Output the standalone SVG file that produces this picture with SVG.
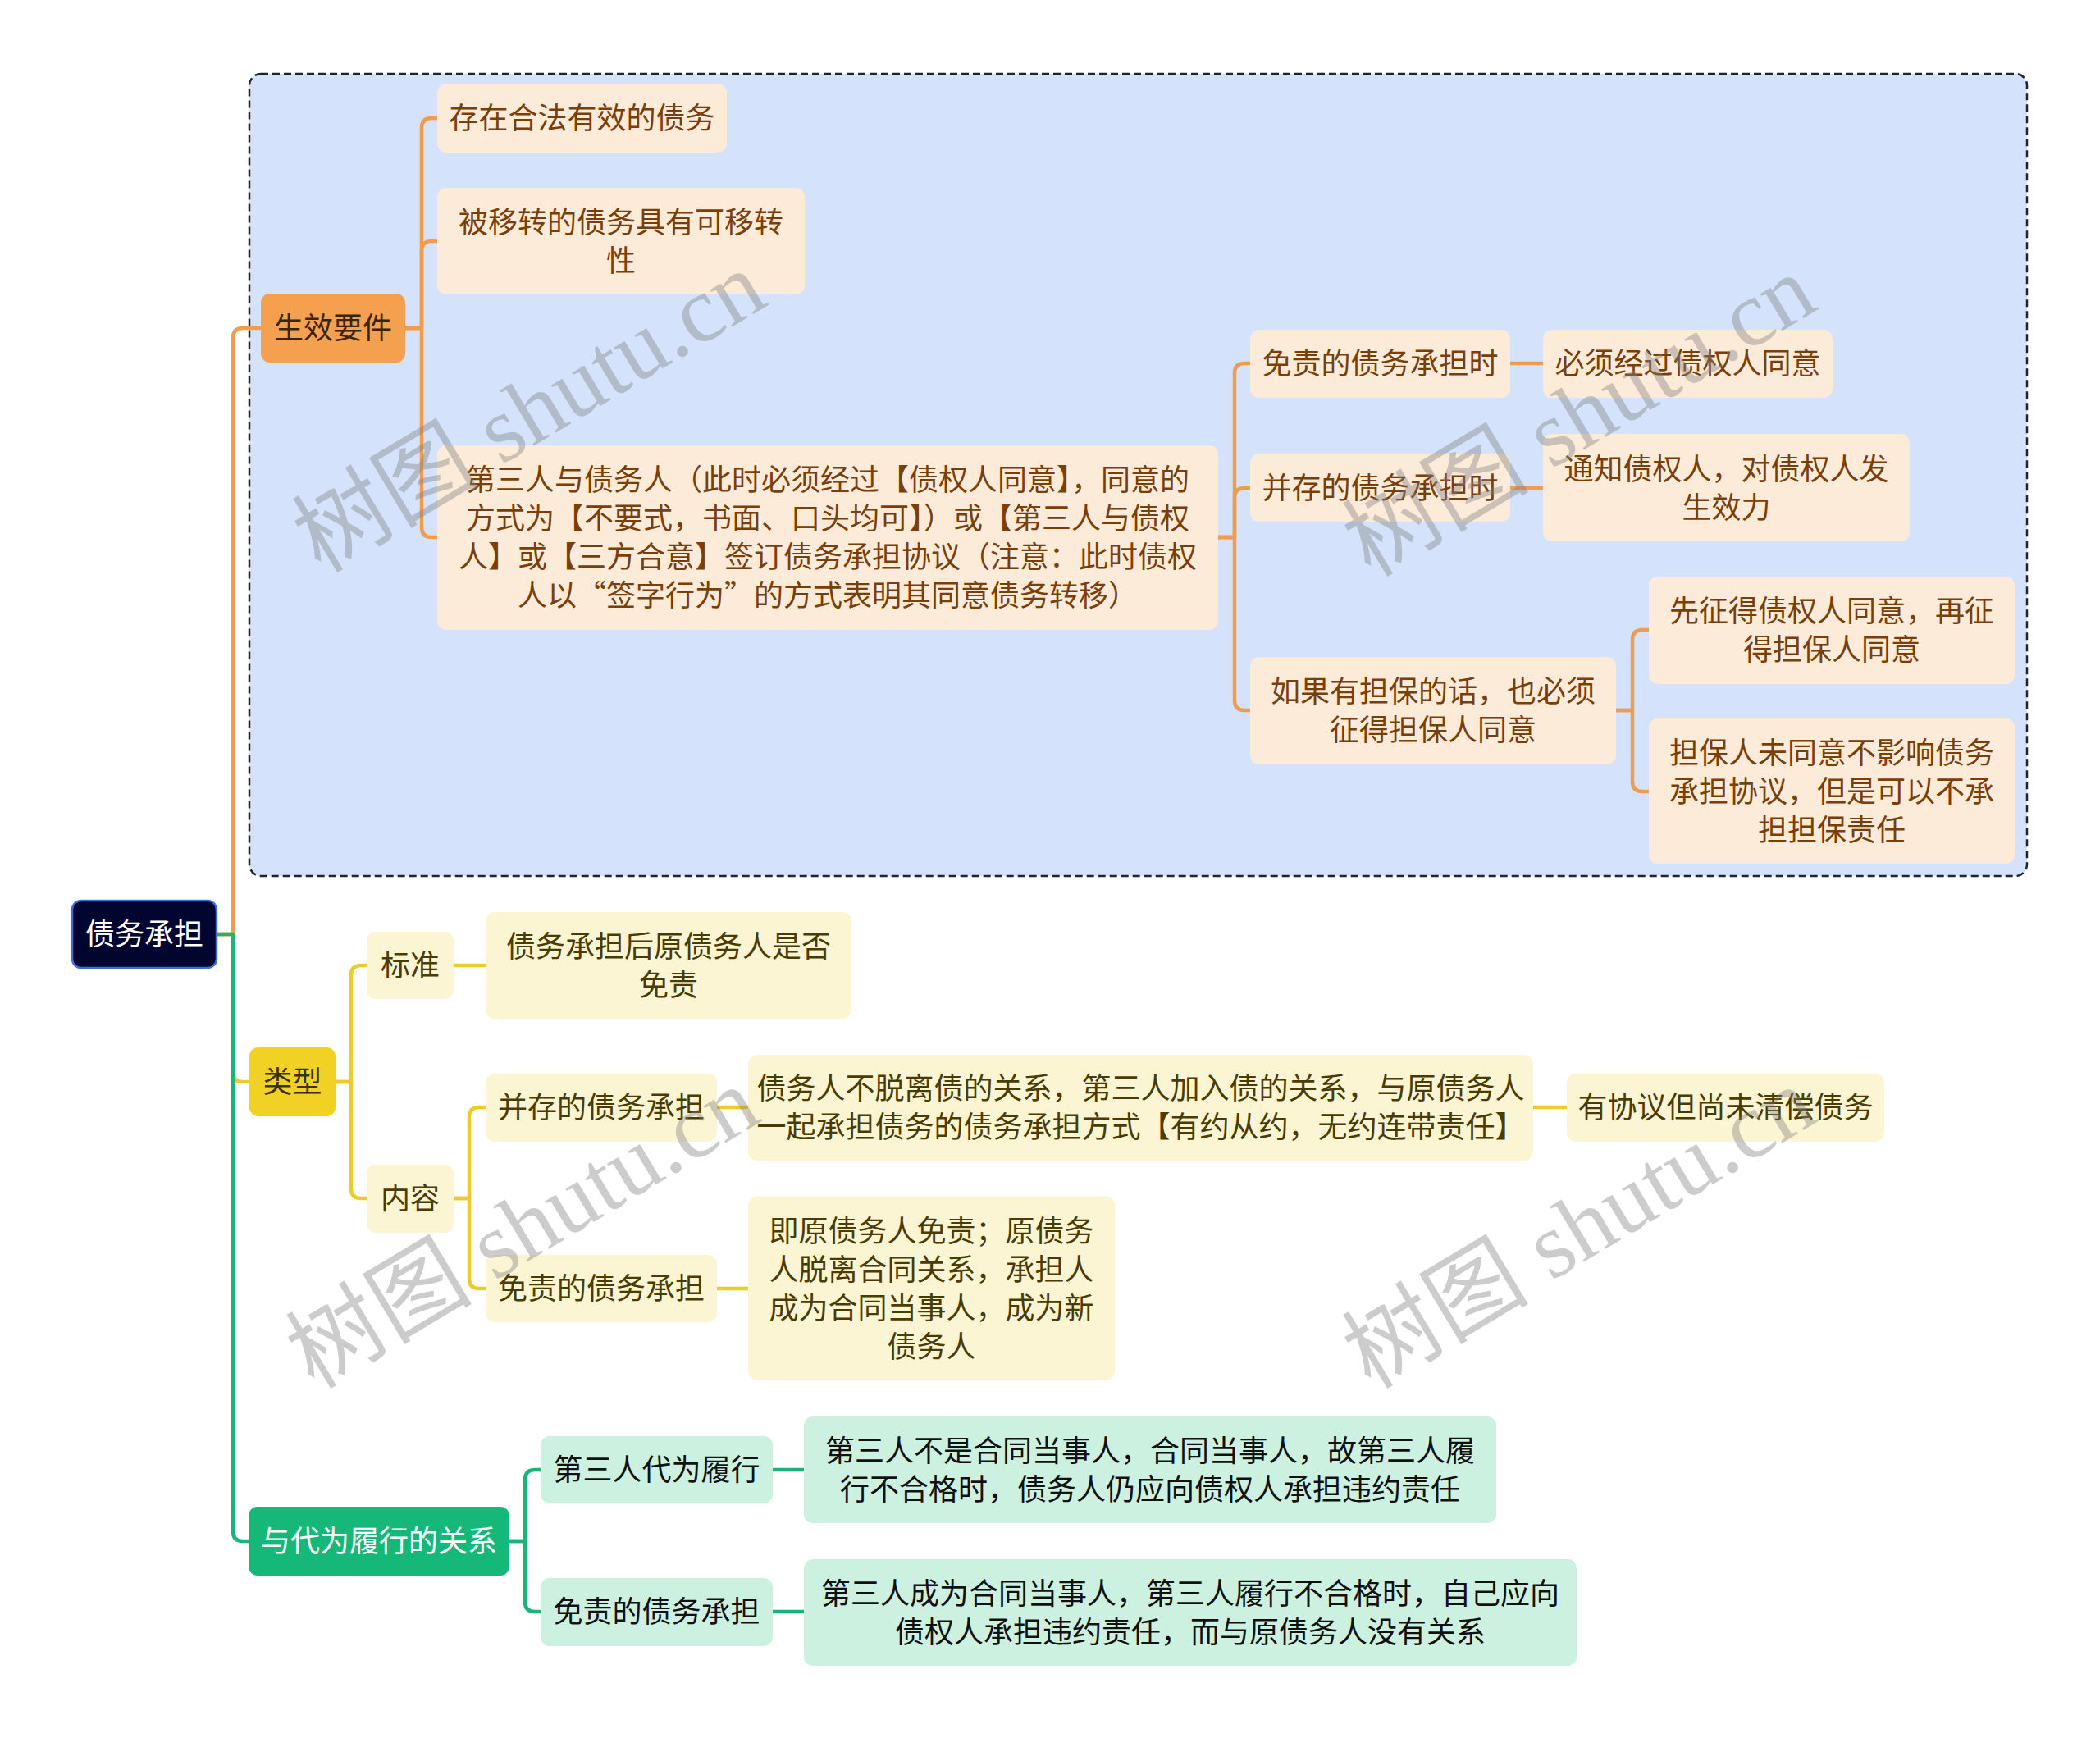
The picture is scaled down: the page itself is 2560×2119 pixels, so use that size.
<svg xmlns="http://www.w3.org/2000/svg" width="2560" height="2119" viewBox="0 0 2560 2119">
<defs>
<style>
text{font-family:"Noto Sans CJK SC","Noto Sans",sans-serif;font-size:36px;text-anchor:middle}
.c{fill:none;stroke-width:4.5;stroke-linecap:round;stroke-linejoin:round}
.co{stroke:#f09c4e}
.cy{stroke:#eccb2a}
.cg{stroke:#19b47a}
.no{fill:#fdebd9}
.ny{fill:#fcf5d4}
.ng{fill:#cdf1e1}
.to{fill:#7a3e08}
.ty{fill:#4a3c00}
.tg{fill:#111111}
.wm{font-family:"Liberation Serif","Noto Sans CJK SC",serif;font-size:114px;fill:#808080;fill-opacity:0.4}
</style>
</defs>
<rect width="2560" height="2119" fill="#ffffff"/>
<rect x="304" y="90" width="2167" height="978" rx="14" fill="#d4e3fb" stroke="#1e2430" stroke-width="2.5" stroke-dasharray="9 5"/>

<g id="connectors">
<g class="c cy">
<path d="M264 1139 H284 V1307 Q284 1319 296 1319 H304"/>
<path d="M409 1319 H428 V1189 Q428 1177 440 1177 H447"/>
<path d="M409 1319 H428 V1449 Q428 1461 440 1461 H447"/>
<path d="M553 1177 H592"/>
<path d="M553 1461 H572 V1362 Q572 1350 584 1350 H592"/>
<path d="M553 1461 H572 V1559 Q572 1571 584 1571 H592"/>
<path d="M874 1350 H912"/>
<path d="M1869 1350 H1910"/>
<path d="M874 1571 H912"/>
</g>
<g class="c co">
<path d="M264 1139 H284 V412 Q284 400 296 400 H318"/>
<path d="M494 400 H514 V156 Q514 144 526 144 H533"/>
<path d="M494 400 H514 V306 Q514 294 526 294 H533"/>
<path d="M494 400 H514 V643 Q514 655 526 655 H533"/>
<path d="M1485 655 H1505 V455 Q1505 443 1517 443 H1524"/>
<path d="M1485 655 H1505 V607 Q1505 595 1517 595 H1524"/>
<path d="M1485 655 H1505 V854 Q1505 866 1517 866 H1524"/>
<path d="M1841 443 H1881"/>
<path d="M1841 595 H1881"/>
<path d="M1970 866 H1990 V780 Q1990 768 2002 768 H2010"/>
<path d="M1970 866 H1990 V953 Q1990 965 2002 965 H2010"/>
</g>
<g class="c cg">
<path d="M264 1139 H284 V1867 Q284 1879 296 1879 H303"/>
<path d="M621 1879 H640 V1804 Q640 1792 652 1792 H659"/>
<path d="M621 1879 H640 V1953 Q640 1965 652 1965 H659"/>
<path d="M942 1792 H980"/>
<path d="M942 1965 H980"/>
</g>
</g>

<g id="root">
<rect x="88" y="1098" width="176" height="82" rx="11" fill="#020530" stroke="#3d6dd6" stroke-width="2.5"/>
<text x="176" y="1152" fill="#ffffff">债务承担</text>
</g>

<g id="n-shengxiao">
<rect x="318" y="358" width="176" height="84" rx="11" fill="#f5a04f"/>
<text x="406" y="413" fill="#3a2408">生效要件</text>
</g>
<g id="n-cunzai">
<rect x="533" y="102" width="353" height="84" rx="11" class="no"/>
<text x="709.5" y="157" class="to">存在合法有效的债务</text>
</g>
<g id="n-beiyizhuan">
<rect x="533" y="229" width="448" height="130" rx="11" class="no"/>
<text class="to"><tspan x="757" y="284">被移转的债务具有可移转</tspan><tspan x="757" y="331">性</tspan></text>
</g>
<g id="n-disanren">
<rect x="533" y="543" width="952" height="225" rx="11" class="no"/>
<text class="to"><tspan x="1009" y="598">第三人与债务人（此时必须经过【债权人同意】，同意的</tspan><tspan x="1009" y="645">方式为【不要式，书面、口头均可】）或【第三人与债权</tspan><tspan x="1009" y="692">人】或【三方合意】签订债务承担协议（注意：此时债权</tspan><tspan x="1009" y="739">人以“签字行为”的方式表明其同意债务转移）</tspan></text>
</g>
<g id="n-mianze1">
<rect x="1524" y="402" width="317" height="83" rx="11" class="no"/>
<text x="1682.5" y="456" class="to">免责的债务承担时</text>
</g>
<g id="n-bixu">
<rect x="1881" y="402" width="353" height="83" rx="11" class="no"/>
<text x="2057.5" y="456" class="to">必须经过债权人同意</text>
</g>
<g id="n-bingcun1">
<rect x="1524" y="553" width="317" height="83" rx="11" class="no"/>
<text x="1682.5" y="608" class="to">并存的债务承担时</text>
</g>
<g id="n-tongzhi">
<rect x="1881" y="529" width="447" height="131" rx="11" class="no"/>
<text class="to"><tspan x="2104.5" y="585">通知债权人，对债权人发</tspan><tspan x="2104.5" y="632">生效力</tspan></text>
</g>
<g id="n-danbao">
<rect x="1524" y="801" width="446" height="131" rx="11" class="no"/>
<text class="to"><tspan x="1747" y="856">如果有担保的话，也必须</tspan><tspan x="1747" y="903">征得担保人同意</tspan></text>
</g>
<g id="n-xianzheng">
<rect x="2010" y="703" width="446" height="131" rx="11" class="no"/>
<text class="to"><tspan x="2233" y="758">先征得债权人同意，再征</tspan><tspan x="2233" y="805">得担保人同意</tspan></text>
</g>
<g id="n-weitongyi">
<rect x="2010" y="876" width="446" height="177" rx="11" class="no"/>
<text class="to"><tspan x="2233" y="931">担保人未同意不影响债务</tspan><tspan x="2233" y="978">承担协议，但是可以不承</tspan><tspan x="2233" y="1025">担担保责任</tspan></text>
</g>

<g id="n-leixing">
<rect x="304" y="1277" width="105" height="84" rx="11" fill="#f2d125"/>
<text x="356.5" y="1332" fill="#3a3000">类型</text>
</g>
<g id="n-biaozhun">
<rect x="447" y="1136" width="106" height="82" rx="11" class="ny"/>
<text x="500" y="1190" class="ty">标准</text>
</g>
<g id="n-shifou">
<rect x="592" y="1112" width="446" height="130" rx="11" class="ny"/>
<text class="ty"><tspan x="815" y="1167">债务承担后原债务人是否</tspan><tspan x="815" y="1214">免责</tspan></text>
</g>
<g id="n-neirong">
<rect x="447" y="1420" width="106" height="83" rx="11" class="ny"/>
<text x="500" y="1474" class="ty">内容</text>
</g>
<g id="n-bingcun2">
<rect x="592" y="1309" width="282" height="83" rx="11" class="ny"/>
<text x="733" y="1363" class="ty">并存的债务承担</text>
</g>
<g id="n-bingcun-desc">
<rect x="912" y="1286" width="957" height="129" rx="11" class="ny"/>
<text class="ty"><tspan x="1390.5" y="1340">债务人不脱离债的关系，第三人加入债的关系，与原债务人</tspan><tspan x="1390.5" y="1387">一起承担债务的债务承担方式【有约从约，无约连带责任】</tspan></text>
</g>
<g id="n-youxieyi">
<rect x="1910" y="1309" width="387" height="83" rx="11" class="ny"/>
<text x="2103.5" y="1363" class="ty">有协议但尚未清偿债务</text>
</g>
<g id="n-mianze2">
<rect x="592" y="1530" width="282" height="82" rx="11" class="ny"/>
<text x="733" y="1584" class="ty">免责的债务承担</text>
</g>
<g id="n-mianze2-desc">
<rect x="912" y="1459" width="447" height="224" rx="11" class="ny"/>
<text class="ty"><tspan x="1135.5" y="1514">即原债务人免责；原债务</tspan><tspan x="1135.5" y="1561">人脱离合同关系，承担人</tspan><tspan x="1135.5" y="1608">成为合同当事人，成为新</tspan><tspan x="1135.5" y="1655">债务人</tspan></text>
</g>

<g id="n-daiwei">
<rect x="303" y="1837" width="318" height="84" rx="11" fill="#16b87a"/>
<text x="462" y="1892" fill="#ffffff">与代为履行的关系</text>
</g>
<g id="n-disanrendaiwei">
<rect x="659" y="1751" width="283" height="82" rx="11" class="ng"/>
<text x="800.5" y="1805" class="tg">第三人代为履行</text>
</g>
<g id="n-disanrendaiwei-desc">
<rect x="980" y="1727" width="844" height="130" rx="11" class="ng"/>
<text class="tg"><tspan x="1402" y="1782">第三人不是合同当事人，合同当事人，故第三人履</tspan><tspan x="1402" y="1829">行不合格时，债务人仍应向债权人承担违约责任</tspan></text>
</g>
<g id="n-mianze3">
<rect x="659" y="1924" width="283" height="83" rx="11" class="ng"/>
<text x="800.5" y="1978" class="tg">免责的债务承担</text>
</g>
<g id="n-mianze3-desc">
<rect x="980" y="1901" width="942" height="130" rx="11" class="ng"/>
<text class="tg"><tspan x="1451" y="1956">第三人成为合同当事人，第三人履行不合格时，自己应向</tspan><tspan x="1451" y="2003">债权人承担违约责任，而与原债务人没有关系</tspan></text>
</g>

<g id="watermarks">
<text class="wm" transform="translate(665 535) rotate(-31)">树图 shutu.cn</text>
<text class="wm" transform="translate(1945 540) rotate(-31)">树图 shutu.cn</text>
<text class="wm" transform="translate(657 1530) rotate(-31)">树图 shutu.cn</text>
<text class="wm" transform="translate(1945 1530) rotate(-31)">树图 shutu.cn</text>
</g>
</svg>
